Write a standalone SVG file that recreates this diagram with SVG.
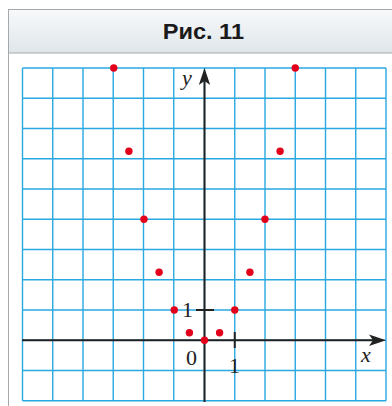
<svg xmlns="http://www.w3.org/2000/svg" width="392" height="406" viewBox="0 0 392 406">
<defs>
<linearGradient id="hdr" x1="0" y1="0" x2="0" y2="1">
<stop offset="0" stop-color="#f7f9fa"/>
<stop offset="1" stop-color="#dfe6ea"/>
</linearGradient>
<style>
.grid line{stroke:#2aa8e1;stroke-width:1.4}
.axis{stroke:#222;stroke-width:2;fill:none}
.pt{fill:#e2001a}
.lbl{font-family:"Liberation Serif",serif;font-size:22px;fill:#222}
.ital{font-style:italic}
</style>
</defs>
<rect x="0" y="0" width="392" height="406" fill="#fff"/>
<g id="header">
<rect x="8.5" y="9.5" width="390" height="43.5" fill="url(#hdr)" stroke="#a5a9ac" stroke-width="1"/>
<text x="162.7" y="38.5" textLength="81.3" lengthAdjust="spacingAndGlyphs" font-family="'Liberation Sans',Arial,sans-serif" font-weight="bold" font-size="22" fill="#1a1a1a">Рис. 11</text>
</g>
<line x1="8.5" y1="53" x2="8.5" y2="406" stroke="#a5a9ac" stroke-width="1"/>
<g id="grid" class="grid">
<line x1="22.5" y1="68" x2="22.5" y2="400.7"/>
<line x1="52.75" y1="68" x2="52.75" y2="400.7"/>
<line x1="83" y1="68" x2="83" y2="400.7"/>
<line x1="113.25" y1="68" x2="113.25" y2="400.7"/>
<line x1="143.5" y1="68" x2="143.5" y2="400.7"/>
<line x1="173.75" y1="68" x2="173.75" y2="400.7"/>
<line x1="204.5" y1="68" x2="204.5" y2="400.7"/>
<line x1="234.75" y1="68" x2="234.75" y2="400.7"/>
<line x1="265" y1="68" x2="265" y2="400.7"/>
<line x1="295.25" y1="68" x2="295.25" y2="400.7"/>
<line x1="325.5" y1="68" x2="325.5" y2="400.7"/>
<line x1="355.75" y1="68" x2="355.75" y2="400.7"/>
<line x1="386" y1="68" x2="386" y2="400.7"/>
<line x1="22.5" y1="68" x2="386" y2="68"/>
<line x1="22.5" y1="98.25" x2="386" y2="98.25"/>
<line x1="22.5" y1="128.5" x2="386" y2="128.5"/>
<line x1="22.5" y1="158.75" x2="386" y2="158.75"/>
<line x1="22.5" y1="189" x2="386" y2="189"/>
<line x1="22.5" y1="219.25" x2="386" y2="219.25"/>
<line x1="22.5" y1="249.5" x2="386" y2="249.5"/>
<line x1="22.5" y1="279.75" x2="386" y2="279.75"/>
<line x1="22.5" y1="310" x2="386" y2="310"/>
<line x1="22.5" y1="340.25" x2="386" y2="340.25"/>
<line x1="22.5" y1="370.5" x2="386" y2="370.5"/>
<line x1="22.5" y1="400.75" x2="386" y2="400.75"/>
</g>
<g id="axes">
<line class="axis" x1="22" y1="340.25" x2="374" y2="340.25"/>
<path d="M386 340.25 L369 334.5 L373 340.25 L369 346 Z" fill="#222"/>
<line class="axis" x1="204.5" y1="402" x2="204.5" y2="80"/>
<path d="M204.5 68 L198.8 85 L204.5 81 L210.2 85 Z" fill="#222"/>
<line class="axis" x1="234.75" y1="332" x2="234.75" y2="348"/>
<line class="axis" x1="196" y1="310" x2="214" y2="310"/>
</g>
<g id="labels">
<text class="lbl" x="191.5" y="365" text-anchor="middle">0</text>
<text class="lbl" x="234.5" y="372.5" text-anchor="middle">1</text>
<text class="lbl" x="187.5" y="316.7" text-anchor="middle">1</text>
<text class="lbl ital" x="366" y="362" text-anchor="middle">x</text>
<text class="lbl ital" x="187" y="85" text-anchor="middle">y</text>
</g>
<g id="points">
<circle class="pt" cx="204.5" cy="340.25" r="3.7"/>
<circle class="pt" cx="219.6" cy="332.7" r="3.7"/>
<circle class="pt" cx="189.4" cy="332.7" r="3.7"/>
<circle class="pt" cx="234.75" cy="310" r="3.7"/>
<circle class="pt" cx="174.25" cy="310" r="3.7"/>
<circle class="pt" cx="249.9" cy="272.2" r="3.7"/>
<circle class="pt" cx="159.1" cy="272.2" r="3.7"/>
<circle class="pt" cx="265" cy="219.25" r="3.7"/>
<circle class="pt" cx="144" cy="219.25" r="3.7"/>
<circle class="pt" cx="280.1" cy="151.2" r="3.7"/>
<circle class="pt" cx="128.9" cy="151.2" r="3.7"/>
<circle class="pt" cx="295.25" cy="68" r="3.7"/>
<circle class="pt" cx="113.75" cy="68" r="3.7"/>
</g>
</svg>
